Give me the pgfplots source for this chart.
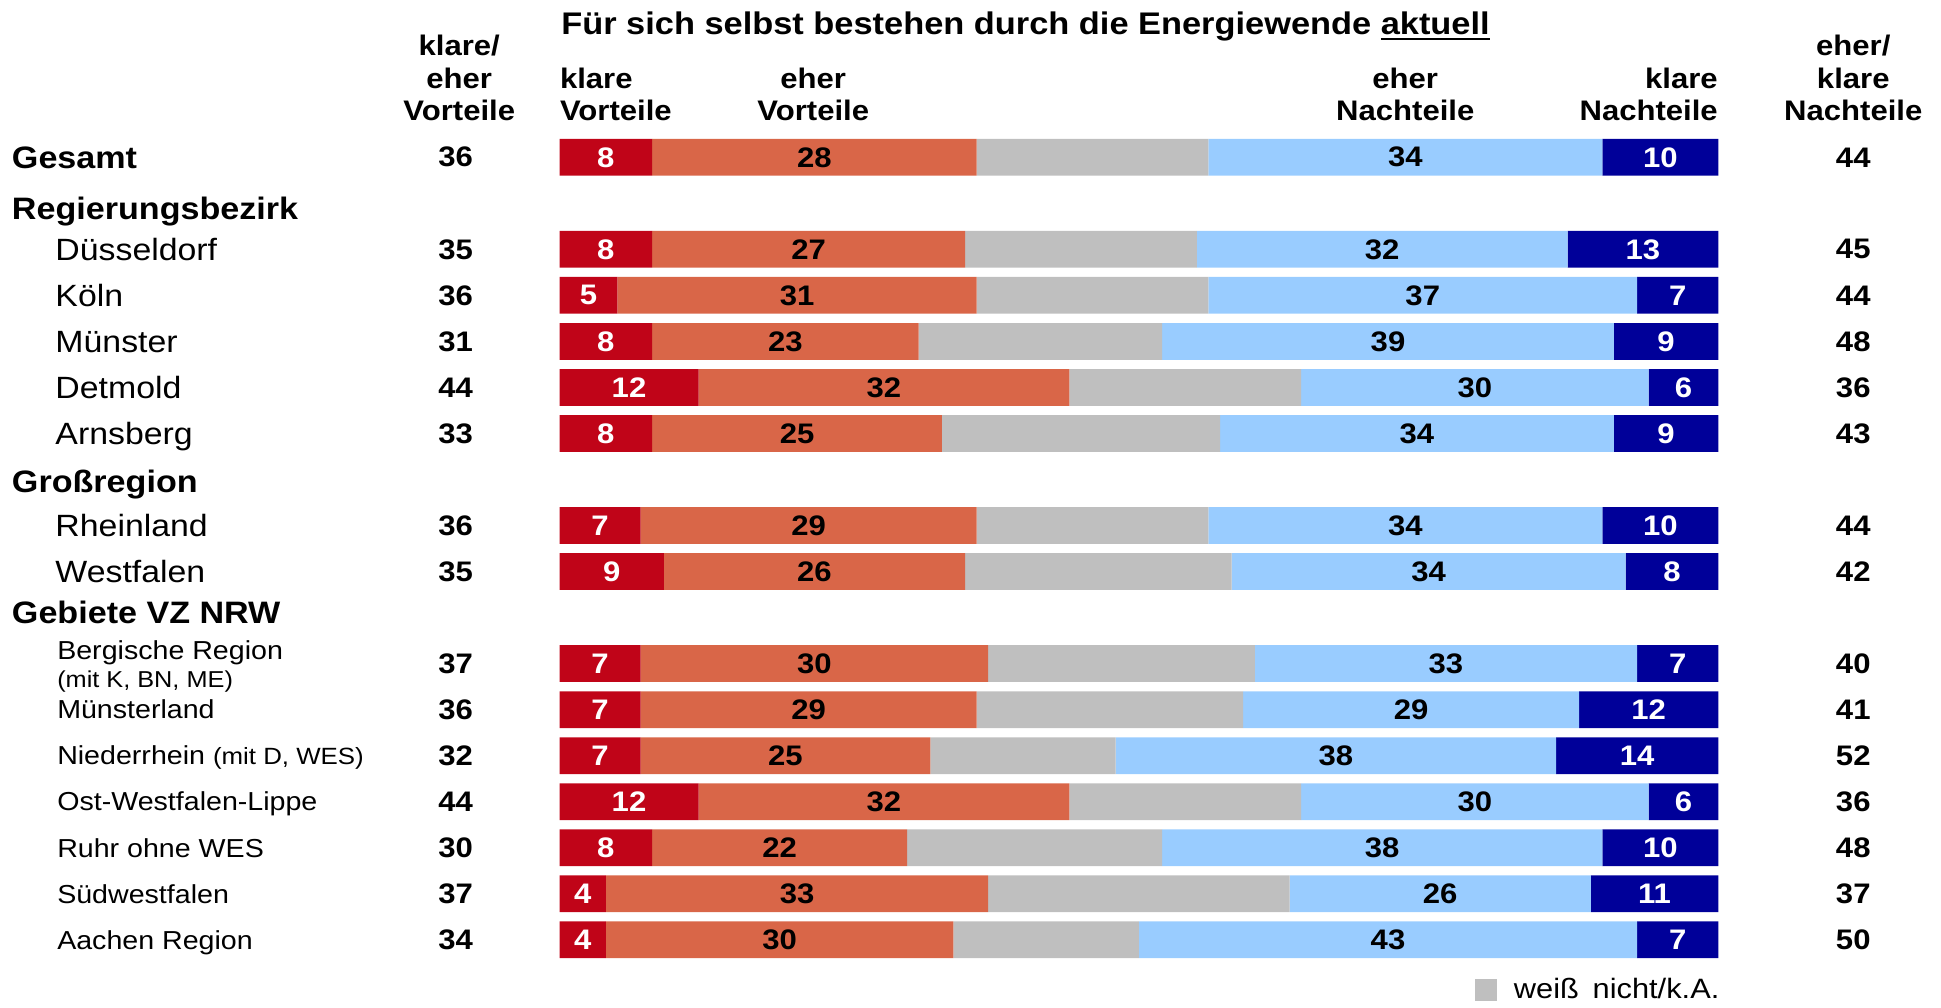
\documentclass[border=0pt]{standalone}
\usepackage{fontspec}
\setmainfont{Liberation Sans}[FakeStretch=1.1]
\usepackage{pgfplots}
\usepackage{pgfplotstable}
\pgfplotsset{compat=1.18}

\definecolor{ckv}{RGB}{192,4,24}
\definecolor{cev}{RGB}{217,102,72}
\definecolor{cwn}{RGB}{191,191,191}
\definecolor{cen}{RGB}{153,204,255}
\definecolor{ckn}{RGB}{0,0,153}

\newcommand{\fs}[1]{\fontsize{#1}{#1}\selectfont}
\newcommand{\ul}[1]{\setbox0\hbox{#1}\rlap{\rule[-2.2pt]{\wd0}{1.1pt}}\box0}

\pgfplotstableread{
row kv ev wn en kn L R
0  8  28 20 34 10 36 44
2  8  27 20 32 13 35 45
3  5  31 20 37 7  36 44
4  8  23 21 39 9  31 48
5  12 32 20 30 6  44 36
6  8  25 24 34 9  33 43
8  7  29 20 34 10 36 44
9  9  26 23 34 8  35 42
11 7  30 23 33 7  37 40
12 7  29 23 29 12 36 41
13 7  25 16 38 14 32 52
14 12 32 20 30 6  44 36
15 8  22 22 38 10 30 48
16 4  33 26 26 11 37 37
17 4  30 16 43 7  34 50
}\data
% label positions: middle of each segment
\pgfplotstablecreatecol[create col/expr={\thisrow{kv}/2}]{pkv}\data
\pgfplotstablecreatecol[create col/expr={\thisrow{kv}+\thisrow{ev}/2}]{pev}\data
\pgfplotstablecreatecol[create col/expr={\thisrow{kv}+\thisrow{ev}+\thisrow{wn}+\thisrow{en}/2}]{pen}\data
\pgfplotstablecreatecol[create col/expr={\thisrow{kv}+\thisrow{ev}+\thisrow{wn}+\thisrow{en}+\thisrow{kn}/2}]{pkn}\data

\pgfplotsset{
  lbl/.style={forget plot, draw=none, mark=none, nodes near coords,
    point meta=explicit symbolic, nodes near coords align={center},
    every node near coord/.append style={anchor=center,
      font=\bfseries\fs{11.3}, text=#1, inner sep=0pt}},
  geom/.style={at={(223.8pt,-53.7pt)}, anchor=north west, scale only axis,
    width=463.5pt, height=331.4pt, xmin=0, xmax=100, ymin=-0.5, ymax=17.5,
    y dir=reverse, hide axis, clip=false},
  sq legend/.style={legend image code/.code={\fill[##1] (0pt,-4.4pt) rectangle (8.8pt,4.4pt);}}
}

\tikzset{
  rowhd/.style={font=\bfseries\fs{12.4}, anchor=west, inner sep=0pt, text height=8.9pt, text depth=0pt},
  rowit/.style={font=\fs{12.3}, anchor=west, inner sep=0pt, text height=8.85pt, text depth=0pt},
  rowsm/.style={font=\fs{10.4}, anchor=west, inner sep=0pt, text height=7.5pt, text depth=0pt},
  colhd/.style={font=\bfseries\fs{11.3}, inner sep=0pt, text height=8.1pt, text depth=0pt}
}

\begin{document}
\begin{tikzpicture}[x=1pt,y=1pt]
\useasboundingbox (0,0) rectangle (776.4,-402.8);
\begin{axis}[geom, xbar stacked, bar width=14.7pt]
\addplot[fill=ckv, draw=none] table[x=kv, y=row]{\data};
\addplot[fill=cev, draw=none] table[x=ev, y=row]{\data};
\addplot[fill=cwn, draw=none] table[x=wn, y=row]{\data};
\addplot[fill=cen, draw=none] table[x=en, y=row]{\data};
\addplot[fill=ckn, draw=none] table[x=kn, y=row]{\data};
\end{axis}
\begin{axis}[geom,
  legend style={at={(axis cs:79.0,18.09)}, anchor=west, draw=none, fill=none,
    inner sep=0pt, font=\fs{11.2}, legend cell align=left}]
\addplot[lbl=white] table[x=pkv, y=row, meta=kv]{\data};
\addplot[lbl=black] table[x=pev, y=row, meta=ev]{\data};
\addplot[lbl=black] table[x=pen, y=row, meta=en]{\data};
\addplot[lbl=white] table[x=pkn, y=row, meta=kn]{\data};
\addplot[lbl=black] table[x expr=-8.97, y=row, meta=L]{\data};
\addplot[lbl=black] table[x expr=111.65, y=row, meta=R]{\data};
\addlegendimage{sq legend, fill=cwn, draw=none}
\addlegendentry{\hspace{4.6pt}weiß\hspace{5.5pt}nicht/k.A.}
\end{axis}

% title
\node[font=\bfseries\fs{12.5}, inner sep=0pt, text height=9pt, text depth=0pt] at (410.2,-9.4)
  {Für sich selbst bestehen durch die Energiewende \ul{aktuell}};
% column headers
\node[colhd] at (183.7,-18.3) {klare/};
\node[colhd] at (183.7,-31.2) {eher};
\node[colhd] at (183.7,-44.1) {Vorteile};
\node[colhd, anchor=west] at (223.8,-31.2) {klare};
\node[colhd, anchor=west] at (223.8,-44.1) {Vorteile};
\node[colhd] at (325.3,-31.2) {eher};
\node[colhd] at (325.3,-44.1) {Vorteile};
\node[colhd] at (562.1,-31.2) {eher};
\node[colhd] at (562.1,-44.1) {Nachteile};
\node[colhd, anchor=east] at (687.3,-31.2) {klare};
\node[colhd, anchor=east] at (687.3,-44.1) {Nachteile};
\node[colhd] at (741.3,-18.3) {eher/};
\node[colhd] at (741.3,-31.2) {klare};
\node[colhd] at (741.3,-44.1) {Nachteile};
% row labels
\node[rowhd] at (4.6,-62.9) {Gesamt};
\node[rowhd] at (4.6,-83.2) {Regierungsbezirk};
\node[rowit] at (22.0,-99.7) {Düsseldorf};
\node[rowit] at (22.0,-118.1) {Köln};
\node[rowit] at (22.0,-136.5) {Münster};
\node[rowit] at (22.0,-155.0) {Detmold};
\node[rowit] at (22.0,-173.4) {Arnsberg};
\node[rowhd] at (4.6,-192.6) {Großregion};
\node[rowit] at (22.0,-210.2) {Rheinland};
\node[rowit] at (22.0,-228.6) {Westfalen};
\node[rowhd] at (4.6,-245.1) {Gebiete VZ NRW};
\node[rowsm] at (22.7,-260.0) {Bergische Region};
\node[rowsm, font=\fs{9.2}] at (22.7,-271.4) {(mit K, BN, ME)};
\node[rowsm] at (22.7,-283.8) {Münsterland};
\node[rowsm] at (22.7,-302.2) {Niederrhein {\fs{9.4}(mit D, WES)}};
\node[rowsm] at (22.7,-320.6) {Ost-Westfalen-Lippe};
\node[rowsm] at (22.7,-339.1) {Ruhr ohne WES};
\node[rowsm] at (22.7,-357.5) {Südwestfalen};
\node[rowsm] at (22.7,-375.9) {Aachen Region};
\end{tikzpicture}
\end{document}
